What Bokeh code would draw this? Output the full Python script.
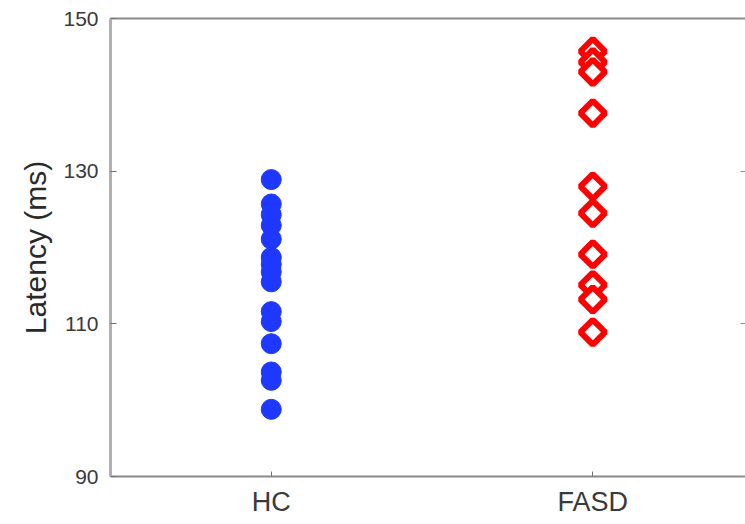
from bokeh.plotting import figure
from bokeh.models import FixedTicker, LinearAxis, Range1d, ColumnDataSource
from bokeh.embed import file_html
from bokeh.resources import INLINE

groups = ["HC", "FASD"]
hc_latency = [128.9, 125.7, 124.3, 122.9, 121.1, 118.7, 117.8, 116.8, 115.5,
              111.6, 110.3, 107.4, 103.7, 102.6, 98.8]
fasd_latency = [145.7, 144.3, 143.0, 137.6, 128.0, 124.5, 119.1, 115.1, 113.2, 108.9]
y_ticks = [90, 110, 130, 150]

hc_src = ColumnDataSource(dict(x=[1] * len(hc_latency), y=hc_latency))
fasd_src = ColumnDataSource(dict(x=[2] * len(fasd_latency), y=fasd_latency))

p = figure(width=745, height=524, output_backend="svg", toolbar_location=None,
           x_range=Range1d(0.5, 2.475), y_range=Range1d(90, 150),
           min_border_left=110, min_border_top=18, min_border_bottom=48,
           min_border_right=0, x_axis_location=None, y_axis_location=None)
p.outline_line_color = None
p.grid.visible = False
p.background_fill_color = "white"
p.border_fill_color = "white"

font = "Liberation Sans"
axis_col = "#8a8a8a"

# left axis
la = LinearAxis(ticker=FixedTicker(ticks=y_ticks), axis_label="Latency (ms)")
la.axis_line_color = "#b0b0b0"
la.axis_line_width = 3
la.major_tick_in = 6
la.major_tick_out = 0
la.major_tick_line_color = "#707070"
la.minor_tick_line_color = None
la.major_label_standoff = 12
la.major_label_text_font = font
la.major_label_text_font_size = "21px"
la.major_label_text_color = "#3a3a3a"
la.axis_label_text_font = font
la.axis_label_text_font_size = "30px"
la.axis_label_text_font_style = "normal"
la.axis_label_text_color = "#2a2a2a"
la.axis_label_standoff = 8
p.add_layout(la, "left")

# bottom axis
ba = LinearAxis(ticker=FixedTicker(ticks=[1, 2]))
ba.major_label_overrides = {1: groups[0], 2: groups[1]}
ba.axis_line_color = axis_col
ba.axis_line_width = 2
ba.major_tick_in = 5
ba.major_tick_out = 0
ba.major_tick_line_color = "#707070"
ba.minor_tick_line_color = None
ba.major_label_standoff = 10
ba.major_label_text_font = font
ba.major_label_text_font_size = "27px"
ba.major_label_text_color = "#3a3a3a"
p.add_layout(ba, "below")

# top axis (box line only, no ticks, no labels)
ta = LinearAxis(ticker=FixedTicker(ticks=[]))
ta.axis_line_color = axis_col
ta.axis_line_width = 2
ta.major_tick_line_color = None
ta.minor_tick_line_color = None
ta.major_label_text_color = None
p.add_layout(ta, "above")

# right axis: inward ticks only
ra = LinearAxis(ticker=FixedTicker(ticks=y_ticks))
ra.major_label_overrides = {t: "" for t in y_ticks}
ra.axis_line_color = None
ra.major_tick_in = 5
ra.major_tick_out = 0
ra.major_tick_line_color = "#909090"
ra.minor_tick_line_color = None
ra.major_label_text_color = None
ra.major_label_standoff = 0
p.add_layout(ra, "right")

p.scatter("x", "y", source=hc_src, marker="circle", size=20,
          fill_color="#1e38ff", line_color="#1e38ff", line_width=1)
p.scatter("x", "y", source=fasd_src, marker="square", angle=0.785398, size=17.5,
          fill_color="white", line_color="#ff0000", line_width=6)

open("out.html", "w").write(file_html(p, INLINE))
